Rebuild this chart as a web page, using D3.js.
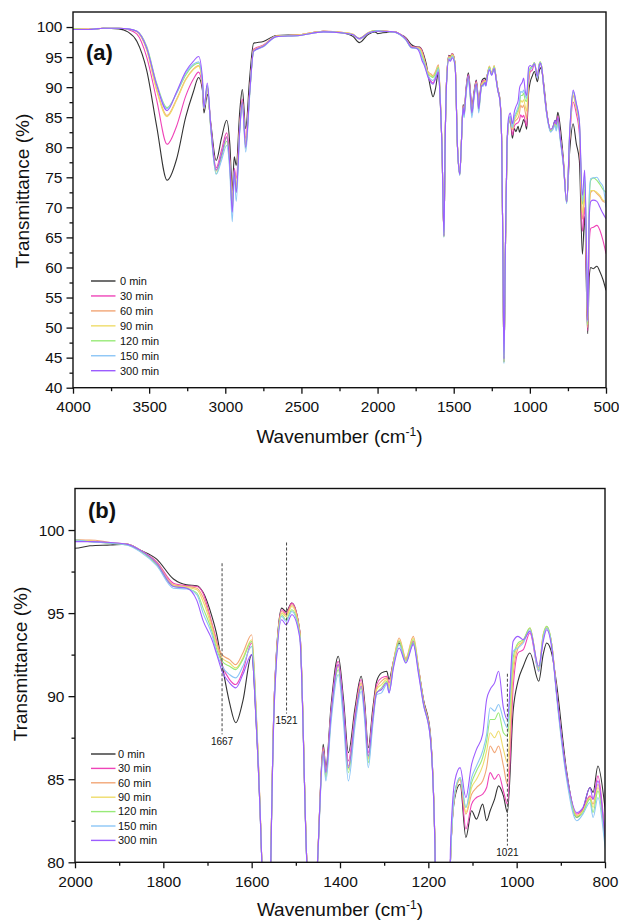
<!DOCTYPE html>
<html>
<head>
<meta charset="utf-8">
<script src="https://cdn.jsdelivr.net/npm/d3@7"></script>
<style>
  body { margin: 0; background: #fff; }
  svg { font-family: "Liberation Sans", Arial, sans-serif; }
</style>
</head>
<body>
<div id="chart"></div>
<script>
// wavenumber grid (cm-1), shared by every spectrum
const wavenumbers = [
  4000, 3900, 3800, 3700, 3640, 3580, 3516, 3450, 3382, 3320,
  3260, 3210, 3175, 3150, 3140, 3118, 3095, 3060, 3025, 2991,
  2970, 2954, 2941, 2928, 2905, 2888, 2866, 2840, 2814, 2750,
  2665, 2510, 2356, 2225, 2160, 2120, 2060, 2017, 2000, 1966,
  1920, 1883, 1853, 1815, 1777, 1747, 1724, 1710, 1690, 1679,
  1667, 1650, 1636, 1620, 1600, 1590, 1577, 1564, 1557, 1548,
  1532, 1522, 1509, 1491, 1475, 1460, 1451, 1438, 1432, 1420,
  1404, 1392, 1381, 1366, 1352, 1344, 1336, 1326, 1317, 1306,
  1294, 1289, 1279, 1266, 1251, 1234, 1222, 1211, 1196, 1185,
  1177, 1170, 1161, 1150, 1140, 1128, 1115, 1102, 1091, 1077,
  1068, 1060, 1050, 1041, 1030, 1021, 1008, 997, 985, 970,
  950, 940, 932, 920, 910, 887, 864, 850, 834, 827,
  816, 800, 780, 758, 738, 716, 695, 675, 655, 640,
  628, 620, 610, 600, 583, 560, 540, 520, 500
];

// transmittance (%) for each irradiation time
const t0 = [
  99.6, 99.6, 99.8, 99.7, 99.2, 97.6, 92.8, 83.4, 74.5, 78.0,
  85.0, 89.2, 91.6, 89.5, 85.7, 88.8, 84.0, 77.8, 81.5, 84.5,
  80.5, 72.8, 78.4, 77.0, 86.0, 89.6, 83.1, 91.5, 97.3, 97.6,
  98.6, 98.7, 99.3, 99.0, 98.4, 97.4, 98.8, 99.2, 98.9, 99.05,
  99.1, 99.15, 98.8, 98.25, 97.05, 96.7, 96.65, 96.25, 94.8, 93.7,
  91.9, 89.6, 88.4, 89.7, 92.5, 88.5, 80.0, 65.3, 79.5, 90.5,
  95.3, 95.1, 95.6, 93.9, 80.0, 75.6, 80.0, 87.1, 85.7, 89.5,
  92.4, 89.8, 86.6, 89.3, 91.2, 89.6, 86.9, 89.2, 90.9, 91.4,
  91.5, 91.0, 92.1, 93.2, 92.2, 93.2, 91.6, 89.8, 87.9, 81.0,
  62.0, 44.3, 62.0, 80.0, 83.9, 84.7, 81.5, 83.1, 82.6, 83.5,
  82.5, 83.1, 83.8, 84.6, 84.0, 83.0, 89.1, 90.9, 91.8, 92.6,
  90.9, 92.5, 93.2, 92.5, 90.8, 85.5, 82.7, 83.2, 84.5, 84.2,
  85.8, 83.3, 78.0, 70.9, 79.5, 83.9, 80.6, 77.8, 62.2, 68.5,
  56.0, 49.0, 58.5, 60.0, 59.8, 60.2, 59.3, 58.0, 56.2
];
const t30 = [
  99.7, 99.6, 99.8, 99.8, 99.6, 98.8, 95.0, 87.8, 80.5, 83.5,
  88.5, 91.3, 92.5, 90.0, 86.4, 89.8, 83.5, 76.6, 79.5, 82.4,
  78.0, 70.5, 76.5, 74.8, 84.0, 88.0, 81.5, 89.5, 96.3, 97.0,
  98.5, 98.7, 99.3, 99.1, 98.7, 98.0, 99.0, 99.4, 99.4, 99.35,
  99.2, 99.15, 98.8, 98.1, 96.8, 96.65, 96.6, 96.2, 94.4, 93.3,
  91.9, 91.0, 90.7, 91.5, 93.2, 89.0, 80.0, 65.2, 79.5, 90.5,
  95.2, 95.0, 95.6, 93.9, 80.0, 75.6, 80.0, 86.9, 85.5, 89.2,
  92.1, 89.4, 86.1, 89.0, 91.0, 89.3, 86.6, 88.9, 90.7, 91.1,
  91.2, 90.8, 92.1, 93.3, 92.2, 93.3, 91.6, 89.7, 87.8, 81.0,
  62.0, 44.3, 62.0, 80.0, 84.1, 85.0, 82.0, 83.5, 83.9, 84.1,
  84.5, 85.4, 85.0, 85.3, 84.3, 83.5, 90.5, 92.6, 92.8, 93.8,
  91.5, 93.5, 94.1, 93.0, 90.4, 85.3, 82.9, 83.2, 84.0, 83.8,
  85.2, 81.8, 77.5, 70.9, 81.5, 87.5, 85.6, 82.3, 66.0, 70.0,
  58.0, 49.5, 64.0, 66.5, 66.7, 67.0, 66.2, 64.5, 62.3
];
const t60 = [
  99.7, 99.7, 99.8, 99.8, 99.7, 99.2, 96.3, 89.6, 85.3, 88.0,
  91.3, 93.0, 93.6, 90.5, 86.5, 90.0, 83.3, 76.2, 79.0, 81.8,
  77.5, 71.0, 76.2, 73.5, 83.5, 87.6, 80.5, 89.0, 96.1, 96.9,
  98.5, 98.7, 99.3, 99.1, 98.8, 98.1, 99.1, 99.4, 99.4, 99.4,
  99.25, 99.15, 98.8, 98.05, 96.7, 96.6, 96.5, 95.95, 94.3, 93.2,
  92.5, 92.2, 91.9, 92.6, 93.7, 89.3, 80.0, 65.2, 79.5, 90.4,
  95.1, 94.9, 95.5, 93.9, 80.0, 75.5, 80.0, 86.8, 85.3, 89.0,
  91.9, 89.1, 85.8, 88.8, 90.8, 89.1, 86.3, 88.7, 90.5, 90.9,
  91.1, 90.6, 92.1, 93.5, 92.3, 93.6, 91.7, 89.7, 87.8, 81.0,
  62.0, 44.3, 62.0, 80.0, 84.1, 85.0, 82.9, 84.1, 84.5, 84.9,
  85.7, 87.0, 86.6, 87.0, 85.8, 84.7, 91.3, 92.9, 93.3, 94.1,
  91.7, 93.7, 94.1, 93.0, 90.3, 85.3, 82.8, 83.1, 83.9, 83.5,
  84.7, 81.5, 77.3, 70.8, 82.0, 88.5, 86.5, 83.5, 68.0, 72.0,
  60.0, 50.0, 69.0, 72.5, 72.8, 72.3, 71.8, 71.0, 70.8
];
const t90 = [
  99.7, 99.6, 99.8, 99.8, 99.7, 99.2, 96.2, 89.4, 85.1, 87.8,
  91.2, 92.9, 93.5, 90.5, 86.5, 90.0, 83.2, 76.0, 78.8, 81.5,
  77.2, 70.5, 76.0, 73.3, 83.3, 87.5, 80.5, 89.0, 96.1, 96.9,
  98.5, 98.7, 99.3, 99.1, 98.8, 98.1, 99.1, 99.4, 99.4, 99.35,
  99.2, 99.15, 98.8, 98.0, 96.65, 96.55, 96.4, 95.7, 94.1, 93.0,
  92.3, 92.0, 91.7, 92.3, 93.4, 89.1, 80.0, 65.1, 79.5, 90.3,
  95.0, 94.8, 95.4, 93.8, 80.0, 75.5, 80.0, 86.7, 85.2, 88.9,
  91.8, 89.0, 85.6, 88.7, 90.7, 89.0, 86.2, 88.6, 90.4, 90.7,
  91.0, 90.5, 92.0, 93.4, 92.2, 93.5, 91.6, 89.6, 87.7, 81.0,
  62.0, 44.3, 62.0, 80.0, 84.1, 85.0, 83.0, 84.5, 85.0, 85.8,
  86.7, 87.8, 87.5, 87.9, 86.8, 86.0, 91.8, 93.1, 93.3, 94.1,
  91.6, 93.7, 94.2, 93.0, 90.3, 85.2, 82.8, 83.1, 83.9, 83.3,
  84.5, 81.5, 77.3, 70.8, 82.2, 88.7, 86.7, 83.8, 69.0, 73.0,
  61.0, 50.5, 70.0, 72.8, 72.8, 72.5, 72.0, 71.2, 71.0
];
const t120 = [
  99.7, 99.6, 99.8, 99.8, 99.7, 99.3, 96.8, 90.6, 86.6, 89.0,
  92.0, 93.6, 94.0, 90.8, 86.5, 90.2, 83.0, 75.6, 78.3, 81.0,
  76.5, 69.5, 75.8, 72.5, 83.0, 87.3, 79.8, 88.8, 96.0, 96.8,
  98.4, 98.6, 99.2, 99.0, 98.7, 98.1, 99.0, 99.4, 99.4, 99.3,
  99.2, 99.1, 98.75, 97.9, 96.6, 96.5, 96.2, 95.3, 93.9, 92.8,
  92.1, 91.8, 91.6, 92.2, 93.3, 89.0, 80.0, 65.1, 79.4, 90.2,
  94.9, 94.6, 95.2, 93.7, 79.9, 75.4, 79.9, 86.6, 85.1, 88.8,
  91.6, 88.8, 85.4, 88.5, 90.5, 88.8, 86.0, 88.4, 90.2, 90.5,
  90.9, 90.3, 91.9, 93.3, 92.1, 93.4, 91.5, 89.6, 87.7, 80.9,
  62.0, 44.2, 62.0, 80.0, 84.2, 85.1, 83.3, 84.8, 85.5, 86.3,
  87.3, 88.6, 88.6, 89.0, 87.8, 87.6, 92.3, 93.2, 93.4, 94.1,
  91.6, 93.6, 94.2, 93.0, 90.2, 85.2, 82.7, 83.0, 83.8, 83.0,
  84.3, 81.3, 77.2, 70.7, 82.5, 89.2, 87.0, 84.0, 70.5, 74.5,
  62.0, 50.5, 71.0, 74.5, 74.9, 74.5, 73.8, 73.0, 72.5
];
const t150 = [
  99.6, 99.6, 99.8, 99.8, 99.7, 99.3, 96.6, 90.4, 86.4, 89.0,
  92.3, 93.8, 94.2, 91.0, 86.5, 90.3, 83.0, 75.5, 77.8, 80.3,
  75.8, 67.6, 75.4, 71.0, 82.5, 87.0, 79.2, 88.5, 95.9, 96.7,
  98.4, 98.6, 99.2, 99.0, 98.7, 98.0, 99.0, 99.3, 99.4, 99.3,
  99.2, 99.1, 98.7, 97.85, 96.5, 96.45, 96.1, 95.0, 93.7, 92.6,
  91.8, 91.3, 91.1, 91.8, 93.0, 88.8, 79.8, 65.0, 79.3, 90.0,
  94.8, 94.5, 95.1, 93.6, 79.8, 75.3, 79.8, 86.4, 84.9, 88.5,
  91.3, 88.4, 84.9, 88.2, 90.3, 88.5, 85.7, 88.2, 90.1, 90.2,
  90.7, 90.2, 91.8, 93.1, 92.0, 93.2, 91.4, 89.5, 87.6, 80.8,
  61.8, 44.0, 61.8, 79.9, 84.2, 85.1, 83.3, 85.1, 85.8, 86.7,
  87.7, 89.3, 89.1, 89.5, 88.6, 88.1, 92.7, 92.9, 93.2, 94.0,
  91.5, 93.5, 94.1, 92.9, 90.1, 85.0, 82.5, 82.9, 83.6, 82.7,
  83.9, 81.0, 77.0, 70.6, 82.6, 89.3, 87.2, 84.2, 71.0, 75.5,
  62.5, 51.0, 72.0, 74.8, 74.9, 75.0, 74.2, 73.5, 70.0
];
const t300 = [
  99.6, 99.6, 99.8, 99.8, 99.7, 99.3, 96.5, 90.3, 86.1, 89.2,
  92.6, 94.3, 95.1, 91.5, 86.6, 90.7, 83.5, 76.2, 78.8, 81.7,
  77.0, 69.2, 76.2, 72.5, 83.0, 87.5, 80.0, 89.0, 96.0, 96.8,
  98.4, 98.6, 99.2, 99.0, 98.7, 98.1, 99.0, 99.3, 99.3, 99.3,
  99.25, 99.15, 98.8, 98.0, 96.6, 96.5, 95.75, 94.55, 93.4, 92.5,
  91.5, 90.8, 90.5, 91.3, 92.5, 88.5, 80.0, 65.3, 79.4, 90.0,
  94.6, 94.3, 94.9, 93.5, 79.9, 75.5, 80.0, 86.7, 85.4, 89.0,
  91.9, 89.2, 85.7, 88.7, 90.6, 89.0, 86.4, 88.6, 90.2, 90.4,
  90.8, 90.2, 91.7, 92.9, 92.0, 93.1, 91.3, 89.5, 87.6, 80.9,
  62.5, 44.8, 63.0, 80.8, 84.9, 85.7, 83.9, 85.9, 86.8, 87.7,
  89.8, 90.4, 90.8, 91.5, 89.3, 88.6, 93.3, 93.6, 93.4, 93.9,
  91.8, 93.3, 94.0, 92.8, 90.3, 85.3, 83.0, 83.3, 84.5, 83.8,
  84.9, 81.6, 77.3, 70.9, 82.8, 89.5, 87.3, 84.5, 72.0, 76.2,
  63.0, 51.2, 68.5, 71.0, 71.2, 71.0, 70.0, 69.0, 68.1
];

const seriesNames = ["0 min", "30 min", "60 min", "90 min", "120 min", "150 min", "300 min"];
const seriesValues = [t0, t30, t60, t90, t120, t150, t300];

// tick values
const xTicksA = [4000, 3500, 3000, 2500, 2000, 1500, 1000, 500];
const yTicksA = [40, 45, 50, 55, 60, 65, 70, 75, 80, 85, 90, 95, 100];
const xTicksB = [2000, 1800, 1600, 1400, 1200, 1000, 800];
const yTicksB = [80, 85, 90, 95, 100];

// marked bands in panel (b)
const markedBands = [1667, 1521, 1021];

const colors = ["#333333", "#ef44b8", "#f2a676", "#efdc6a", "#98ea78", "#8cc6f6", "#9c5cff"];
const width = 619, height = 922;

const svg = d3.select("#chart").append("svg")
  .attr("width", width)
  .attr("height", height)
  .attr("viewBox", `0 0 ${width} ${height}`);
const defs = svg.append("defs");

function drawPanel(cfg) {
  const x = d3.scaleLinear().domain(cfg.xDomain).range([cfg.left, cfg.right]);
  const y = d3.scaleLinear().domain(cfg.yDomain).range([cfg.bottom, cfg.top]);

  defs.append("clipPath").attr("id", cfg.id + "-clip")
    .append("rect")
    .attr("x", cfg.left).attr("y", cfg.top)
    .attr("width", cfg.right - cfg.left).attr("height", cfg.bottom - cfg.top);

  const g = svg.append("g");

  // spectra
  const line = d3.line()
    .x((d, i) => x(wavenumbers[i]))
    .y(d => y(d))
    .curve(d3.curveMonotoneX);

  g.append("g").attr("clip-path", `url(#${cfg.id}-clip)`)
    .selectAll("path")
    .data(seriesValues)
    .enter().append("path")
    .attr("d", line)
    .attr("fill", "none")
    .attr("stroke", (d, i) => colors[i])
    .attr("stroke-width", 1.1)
    .attr("stroke-linejoin", "round");

  // axes
  g.append("g")
    .attr("transform", `translate(0,${cfg.bottom})`)
    .call(d3.axisBottom(x).tickValues(cfg.xTicks).tickSize(6).tickPadding(7.5).tickFormat(d3.format("d")));
  g.append("g")
    .attr("transform", `translate(0,${cfg.bottom})`)
    .call(d3.axisBottom(x).tickValues(cfg.xMinor).tickSize(3.5).tickFormat(""));
  g.append("g")
    .attr("transform", `translate(${cfg.left},0)`)
    .call(d3.axisLeft(y).tickValues(cfg.yTicks).tickSize(6.5).tickPadding(4).tickFormat(d3.format("d")));
  g.append("g")
    .attr("transform", `translate(${cfg.left},0)`)
    .call(d3.axisLeft(y).tickValues(cfg.yMinor).tickSize(3.5).tickFormat(""));

  g.selectAll(".domain").remove();
  g.selectAll(".tick line").attr("stroke", "#111").attr("stroke-width", 1.3);
  g.selectAll(".tick text")
    .attr("fill", "#111")
    .style("font-size", "15.5px")
    .style("font-family", "'Liberation Sans', Arial, sans-serif");

  // frame
  g.append("rect")
    .attr("x", cfg.left).attr("y", cfg.top)
    .attr("width", cfg.right - cfg.left).attr("height", cfg.bottom - cfg.top)
    .attr("fill", "none")
    .attr("stroke", "#111")
    .attr("stroke-width", 1.4);

  // axis titles
  const xt = g.append("text")
    .attr("x", (cfg.left + cfg.right) / 2)
    .attr("y", cfg.xTitleY)
    .attr("text-anchor", "middle")
    .style("font-size", "19px")
    .attr("fill", "#111");
  xt.append("tspan").text("Wavenumber (cm");
  xt.append("tspan").attr("dy", -7).style("font-size", "12px").text("-1");
  xt.append("tspan").attr("dy", 7).text(")");

  g.append("text")
    .attr("transform", `translate(${cfg.yTitleX},${cfg.yTitleY}) rotate(-90)`)
    .attr("text-anchor", "middle")
    .style("font-size", "19px")
    .attr("fill", "#111")
    .text("Transmittance (%)");

  // panel tag
  g.append("text")
    .attr("x", cfg.left + 13)
    .attr("y", cfg.tagY)
    .style("font-size", "22px")
    .style("font-weight", "bold")
    .attr("fill", "#111")
    .text(cfg.tag);

  // legend
  const legend = g.append("g")
    .attr("transform", `translate(${cfg.legendX},${cfg.legendY})`);
  const entry = legend.selectAll("g")
    .data(seriesNames)
    .enter().append("g")
    .attr("transform", (d, i) => `translate(0,${i * cfg.legendStep})`);
  entry.append("line")
    .attr("x1", 0).attr("x2", 24.5)
    .attr("stroke", (d, i) => colors[i])
    .attr("stroke-width", 1.4);
  entry.append("text")
    .attr("x", cfg.legendTextX)
    .attr("dy", "0.35em")
    .style("font-size", "11px")
    .attr("fill", "#111")
    .text(d => d);

  return { x, y, g };
}

// panel (a): full spectrum
drawPanel({
  id: "a", tag: "(a)",
  left: 73, right: 606, top: 12, bottom: 387.7,
  xDomain: [4000, 500], yDomain: [40, 102.5],
  xTicks: xTicksA, xMinor: d3.range(750, 4000, 500),
  yTicks: yTicksA, yMinor: d3.range(42.5, 100, 5),
  xTitleY: 443, yTitleX: 29, yTitleY: 191, tagY: 60,
  legendX: 91, legendY: 281, legendStep: 14.95, legendTextX: 29
});

// panel (b): 2000-800 cm-1 zoom
const pb = drawPanel({
  id: "b", tag: "(b)",
  left: 75, right: 605, top: 488.5, bottom: 862.3,
  xDomain: [2000, 800], yDomain: [80, 102.5],
  xTicks: xTicksB, xMinor: d3.range(900, 2000, 200),
  yTicks: yTicksB, yMinor: d3.range(82.5, 100, 5),
  xTitleY: 915.5, yTitleX: 27, yTitleY: 664, tagY: 518,
  legendX: 91, legendY: 754, legendStep: 14.4, legendTextX: 27
});

// dashed band markers with labels
const bandExtents = [[98.0, 87.7, 745], [99.25, 88.95, 724], [91.35, 81.0, 856]];
markedBands.forEach((wn, i) => {
  const [top, bottom, labelY] = bandExtents[i];
  pb.g.append("line")
    .attr("x1", pb.x(wn)).attr("x2", pb.x(wn))
    .attr("y1", pb.y(top)).attr("y2", pb.y(bottom))
    .attr("stroke", "#444")
    .attr("stroke-width", 1)
    .attr("stroke-dasharray", "3,2");
  pb.g.append("text")
    .attr("x", pb.x(wn))
    .attr("y", labelY)
    .attr("text-anchor", "middle")
    .style("font-size", "10px")
    .attr("fill", "#111")
    .text(wn);
});
</script>
</body>
</html>
